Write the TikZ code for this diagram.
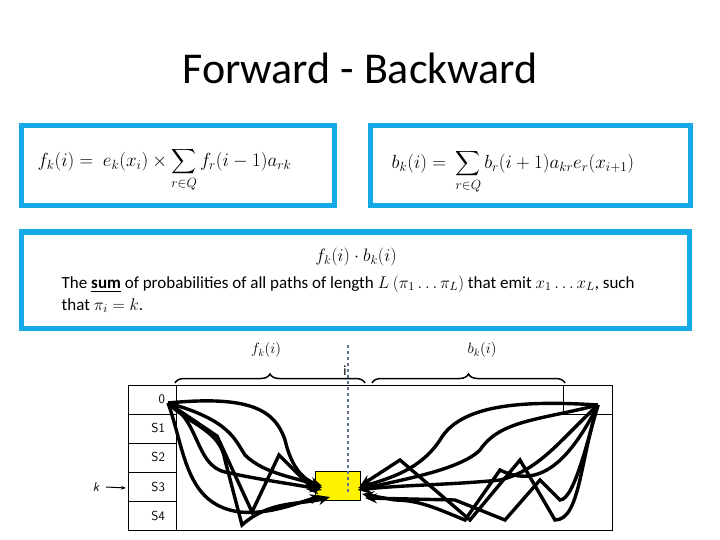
\RequirePackage{fix-cm}
\documentclass[tikz,border=0pt]{standalone}
\usepackage{amsmath}
\usepackage{fontspec}
\setmainfont{Carlito}
\usetikzlibrary{arrows.meta,decorations.pathreplacing}
\definecolor{boxblue}{RGB}{20,170,230}
\definecolor{dashgray}{RGB}{95,115,140}
\tikzset{every picture/.style={line width=0.75pt}}
\tikzset{
  formbox/.style={draw=boxblue,line width=5pt},
  path/.style={line width=3.4pt,-{Stealth[length=12pt,width=10pt]}},
  cell/.style={draw,line width=1pt},
  statelbl/.style={inner sep=0.75pt,font=\fontsize{13}{15}\selectfont\sffamily}
}
\begin{document}
\begin{tikzpicture}[x=1pt,y=-1pt]
\useasboundingbox (0,0) rectangle (720,540);

% Title
\node (title) at (360,68) {\fontsize{44}{48}\selectfont Forward - Backward};

% Formula boxes
\draw[formbox] (21,126) rectangle (334,206);
\draw[formbox] (370,126) rectangle (690,206);
\draw[formbox] (21,232) rectangle (689,328);
\node (fwd) [anchor=west,font=\fontsize{19}{21}\selectfont] at (34,170) {$\displaystyle f_k(i) =\ e_k(x_i)\times\sum_{r\in Q} f_r(i-1)a_{rk}$};
\node (bwd) [anchor=west,font=\fontsize{19}{21}\selectfont] at (388,172) {$\displaystyle b_k(i) =\ \sum_{r\in Q} b_r(i+1)a_{kr}e_r(x_{i+1})$};
\node (prod) [font=\fontsize{18}{20}\selectfont] at (356,257) {$f_k(i)\cdot b_k(i)$};
\node (expl) [anchor=north west,align=left,font=\fontsize{17}{22}\selectfont] at (58,272) {The \underline{\textbf{sum}} of probabilities of all paths of length $L$ $(\pi_1\ldots\pi_L)$ that emit $x_1\ldots x_L$, such\\ that $\pi_i=k$.};

% Table of states
\draw[cell] (128,385) rectangle (612,530);
\foreach \y in {414,443,472,501} \draw[cell] (128,\y) -- (176,\y);
\draw[cell] (176,385) -- (176,530);
\draw[cell] (563,385) -- (563,414) -- (612,414);
\foreach \s/\y in {0/399,S1/428,S2/457,S3/487,S4/516}
  \node (st\s) [statelbl,anchor=east] at (166,\y) {\s};
\node (k) [statelbl] at (96,487) {\itshape k};
\draw[-{Stealth[length=5pt]},line width=1pt] (k.east)++(6,0) -- (126,488);

% Position i
\node (cur) [fill=yellow,draw,minimum width=45pt,minimum height=29pt,inner sep=0pt] at (338,486) {};
\draw[dashed,color=dashgray,line width=1.2pt] (348,345) -- (348,492);
\node (ilbl) [font=\fontsize{14}{16}\selectfont] at (345,371) {i};

% Braces
\draw[decorate,decoration={brace,amplitude=9pt},line width=1.5pt] (175,383) -- (365,383) coordinate[midway] (fmid);
\draw[decorate,decoration={brace,amplitude=9pt},line width=1.5pt] (372,383) -- (565,383) coordinate[midway] (bmid);
\node (flbl) [font=\fontsize{15}{17}\selectfont] at (266,350) {$f_k(i)$};
\node (blbl) [font=\fontsize{15}{17}\selectfont] at (482,350) {$b_k(i)$};

% Forward paths
\coordinate (srcL) at (168,403);
\coordinate (srcR) at (598,405);
\draw[path] (srcL) .. controls (250,395) and (275,410) .. (285,440) .. controls (292,470) and (305,480) .. (322,486);
\draw[path] (srcL) .. controls (230,420) and (235,440) .. (245,455) .. controls (265,475) and (300,478) .. (322,488);
\draw[path] (srcL) .. controls (200,420) and (195,465) .. (225,472) .. controls (260,480) and (300,485) .. (322,490);
\draw[path] (srcL) .. controls (185,450) and (185,505) .. (240,512) .. controls (270,515) and (300,502) .. (322,496);
\draw[path] (srcL) -- (217,436) -- (252,512) -- (279,455) -- (318,494);
\draw[path] (srcL) .. controls (190,425) and (220,430) .. (225,460) -- (242,525) .. controls (270,500) and (300,505) .. (330,497);

% Backward paths
\draw[path] (srcR) .. controls (520,400) and (460,405) .. (440,440) .. controls (420,470) and (390,478) .. (358,488);
\draw[path] (srcR) .. controls (540,420) and (500,420) .. (480,450) .. controls (460,470) and (400,480) .. (358,490);
\draw[path] (srcR) .. controls (560,440) and (540,470) .. (500,480) .. controls (450,485) and (400,485) .. (358,490);
\draw[path] (srcR) .. controls (580,460) and (580,520) .. (555,520) -- (520,460) -- (470,520) -- (400,460) -- (360,486);
\draw[path] (srcR) .. controls (570,460) and (540,490) .. (500,470) -- (465,520) .. controls (440,510) and (420,500) .. (395,500) -- (362,494);
\draw[path] (srcR) .. controls (590,430) and (575,500) .. (560,500) -- (540,480) -- (505,520) -- (455,500) -- (365,498);
\end{tikzpicture}
\end{document}
